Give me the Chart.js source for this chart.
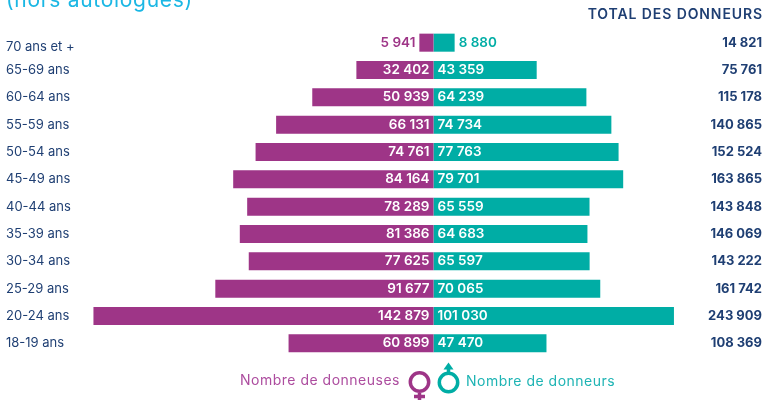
<!DOCTYPE html>
<html>
<head>
<meta charset="utf-8">
<style>
  html, body { margin: 0; padding: 0; background: #fff; overflow: hidden; }
  #wrap { width: 764px; height: 400px; }
</style>
<script src="https://cdn.jsdelivr.net/npm/chart.js@4"></script>
</head>
<body>
<div id="wrap"><canvas id="pyramid" width="764" height="400"></canvas></div>
<script>
const ageLabels = ['70 ans et +', '65-69 ans', '60-64 ans', '55-59 ans', '50-54 ans', '45-49 ans',
  '40-44 ans', '35-39 ans', '30-34 ans', '25-29 ans', '20-24 ans', '18-19 ans'];
const femmes = [5941, 32402, 50939, 66131, 74761, 84164, 78289, 81386, 77625, 91677, 142879, 60899];
const hommes = [8880, 43359, 64239, 74734, 77763, 79701, 65559, 64683, 65597, 70065, 101030, 47470];
const totals = [14821, 75761, 115178, 140865, 152524, 163865, 143848, 146069, 143222, 161742, 243909, 108369];

const PURPLE = '#9e3587';
const TEAL = '#00ada5';
const NAVY = '#1f3f73';
const FONT = 'Inter, "Open Sans", sans-serif';

function fmt(n) {
  return String(n).replace(/\B(?=(\d{3})+$)/g, ' ');
}

function drawText(ctx, text, x, y, font, color, align, spacing) {
  ctx.font = font;
  ctx.fillStyle = color;
  ctx.textAlign = align || 'left';
  ctx.textBaseline = 'middle';
  ctx.letterSpacing = (spacing || 0) + 'px';
  ctx.fillText(text, x, y);
}

const pyramidText = {
  id: 'pyramidText',
  afterDatasetsDraw(chart) {
    const ctx = chart.ctx;
    const xs = chart.scales.x;
    const ys = chart.scales.y;
    ctx.save();

    // bit of the title that is cut by the crop
    drawText(ctx, '(hors autologues)', 6, 1, '21px ' + FONT, '#1ab7e4', 'left', 0.7);
    drawText(ctx, 'TOTAL DES DONNEURS', 763, 15, '600 14px ' + FONT, NAVY, 'right', 0.9);

    ageLabels.forEach((label, i) => {
      const y = ys.getPixelForValue(i);
      // first label sits lower than its bar in the original
      drawText(ctx, label, 6, i === 0 ? y + 4 : y, '13px ' + FONT, NAVY);

      const zero = xs.getPixelForValue(0);
      const valueFont = '600 13.5px ' + FONT;
      if (i === 0) {
        // bar too small, labels go outside
        drawText(ctx, fmt(femmes[i]), xs.getPixelForValue(-femmes[i]) - 4, y, valueFont, PURPLE, 'right');
        drawText(ctx, fmt(hommes[i]), xs.getPixelForValue(hommes[i]) + 4, y, valueFont, TEAL);
      } else {
        drawText(ctx, fmt(femmes[i]), zero - 4, y, valueFont, '#fff', 'right');
        drawText(ctx, fmt(hommes[i]), zero + 4, y, valueFont, '#fff');
      }
      drawText(ctx, fmt(totals[i]), 762, y, '700 13px ' + FONT, NAVY, 'right');
    });

    // legend
    drawText(ctx, 'Nombre de donneuses', 400, 381, '14px ' + FONT, '#ad4d9f', 'right', 0.5);
    drawText(ctx, 'Nombre de donneurs', 466, 382, '14px ' + FONT, '#1eb4b4', 'left', 0.5);

    // female symbol
    ctx.lineWidth = 3.5;
    ctx.strokeStyle = PURPLE;
    ctx.beginPath();
    ctx.arc(419.5, 382, 9.2, 0, Math.PI * 2);
    ctx.moveTo(419.5, 391);
    ctx.lineTo(419.5, 400);
    ctx.moveTo(414, 396.5);
    ctx.lineTo(425, 396.5);
    ctx.stroke();

    // male symbol
    ctx.strokeStyle = TEAL;
    ctx.beginPath();
    ctx.arc(448.5, 382.5, 9.2, 0, Math.PI * 2);
    ctx.moveTo(448.5, 373);
    ctx.lineTo(448.5, 366);
    ctx.stroke();
    ctx.fillStyle = TEAL;
    ctx.beginPath();
    ctx.moveTo(448.5, 362.5);
    ctx.lineTo(443.5, 369.5);
    ctx.lineTo(453.5, 369.5);
    ctx.closePath();
    ctx.fill();

    ctx.restore();
  }
};

new Chart(document.getElementById('pyramid'), {
  type: 'bar',
  data: {
    labels: ageLabels,
    datasets: [
      { label: 'Nombre de donneuses', data: femmes.map(v => -v), backgroundColor: PURPLE },
      { label: 'Nombre de donneurs', data: hommes, backgroundColor: TEAL }
    ]
  },
  options: {
    indexAxis: 'y',
    responsive: false,
    animation: false,
    layout: { padding: { top: 29, bottom: 43, left: 0, right: 0 } },
    datasets: { bar: { categoryPercentage: 1, barPercentage: 0.66 } },
    plugins: { legend: { display: false }, tooltip: { enabled: false } },
    scales: {
      x: { stacked: true, display: false, min: -182143, max: 138866 },
      y: { stacked: true, display: false }
    }
  },
  plugins: [pyramidText]
});
</script>
</body>
</html>
